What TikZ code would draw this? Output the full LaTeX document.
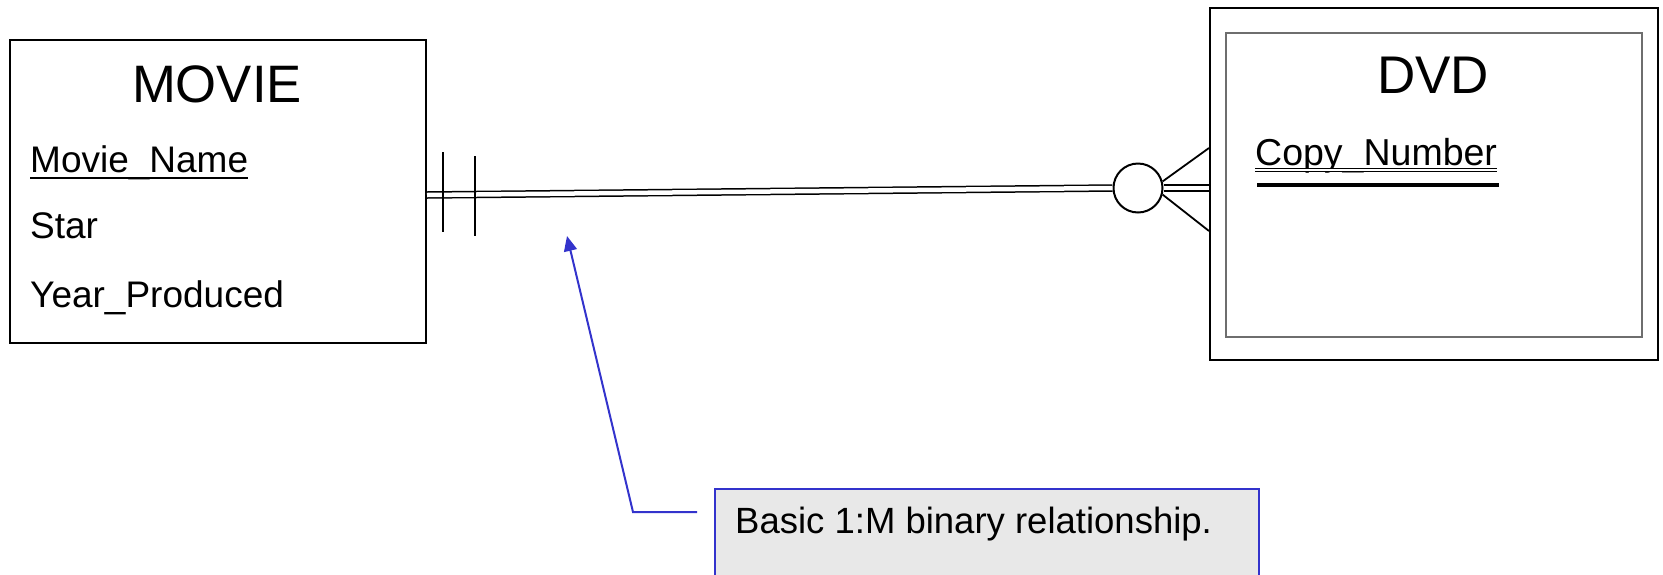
\documentclass[tikz,border=0pt]{standalone}
\usepackage{fontspec}
\setmainfont{Liberation Sans}
\usetikzlibrary{calc,arrows.meta}
\definecolor{noteblue}{RGB}{51,51,204}
\definecolor{notefill}{RGB}{232,232,232}
\definecolor{innergray}{RGB}{110,110,110}
\begin{document}
\begin{tikzpicture}[x=1pt,y=-1pt,
  entity/.style={draw=black, line width=2pt, inner sep=0pt, rectangle},
  innerbox/.style={draw=innergray, line width=1.6pt, inner sep=0pt, rectangle},
  title/.style={inner sep=0pt, anchor=base, font=\fontsize{52.7}{60}\selectfont},
  attr/.style={inner sep=0pt, anchor=base west, font=\fontsize{37}{44}\selectfont},
  rel/.style={draw=black, line width=1.5pt, double=white, double distance=4.5pt},
  bar/.style={draw=black, line width=2.3pt},
  thinline/.style={draw=black, line width=1.8pt},
  uline/.style={draw=black, line width=2pt},
  notebox/.style={draw=noteblue, line width=2pt, fill=notefill, inner sep=0pt, rectangle, anchor=north west},
  callout/.style={draw=noteblue, line width=2pt, -{Triangle[length=15pt,width=13pt]}}
]
\useasboundingbox (0,0) rectangle (1663,574);
\clip (0,0) rectangle (1663,574);

% MOVIE entity
\node[entity, minimum width=416pt, minimum height=303pt] (movie) at (218,191.5) {};
\node[title] (movtitle) at (217,102) {MOVIE};
\node[attr] (mname) at (30,172) {Movie\_Name};
\draw[uline] ($(mname.base west)+(0,5.5)$) -- ($(mname.base east)+(0,5.5)$);
\node[attr] (star) at (30,238) {Star};
\node[attr] (year) at (30,307) {Year\_Produced};

% DVD entity (weak: double box)
\node[entity, minimum width=448pt, minimum height=352pt] (dvd) at (1434,184) {};
\node[innerbox, minimum width=416pt, minimum height=304pt] (dvdin) at (1434,185) {};
\node[title, font=\fontsize{53}{60}\selectfont] (dvdtitle) at (1433,93) {DVD};
\node[attr, font=\fontsize{37.5}{44}\selectfont] (copyno) at (1255,165) {Copy\_Number};
\draw[draw=black, line width=1.2pt, double=white, double distance=1.5pt]
  ($(copyno.base west)+(0,5)$) -- ($(copyno.base east)+(0,5)$);
\draw[draw=black, line width=4pt] ($(copyno.base west)+(2,19.5)$) -- ($(copyno.base east)+(2,19.5)$);

% relationship line
\node[circle, draw=black, line width=2pt, fill=white, minimum size=49pt, inner sep=0pt] (circ) at (1138,188) {};
\draw[rel] ($(movie.east)+(0,3.5)$) -- (circ.west);
\draw[rel] (circ.east) -- (circ.east -| dvd.west);
\draw[thinline] (circ.15) -- ($(dvd.west)+(0,-36)$);
\draw[thinline] (circ.-15) -- ($(dvd.west)+(0,47)$);
\draw[bar] ($(movie.east)+(16,-39.5)$) -- ($(movie.east)+(16,40.5)$);
\draw[bar] ($(movie.east)+(48,-35.5)$) -- ($(movie.east)+(48,44.5)$);

% callout
\node[notebox, minimum width=544pt, minimum height=120pt] (note) at (714,488) {};
\node[inner sep=0pt, anchor=base west, font=\fontsize{36.5}{44}\selectfont] (notetext) at (735,533) {Basic 1:M binary relationship.};
\coordinate (tip) at (567,236);
\coordinate (bend) at (633,512);
\draw[callout] ($(note.north west)+(-17,24)$) -- (bend) -- (tip);
\end{tikzpicture}
\end{document}
